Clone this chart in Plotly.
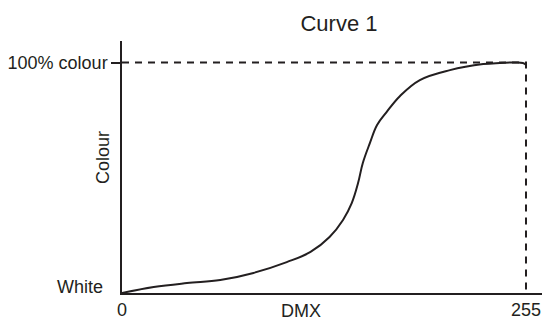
import plotly.graph_objects as go

# valores DMX (0-255) y porcentaje de color
dmx = [0, 20, 41, 62, 83, 104, 119, 131, 139.5, 145, 149, 152, 156.5, 161, 167, 175.5, 188, 207, 228, 238.5, 248, 253, 255]
colour = [0, 2.6, 4.3, 5.6, 8.7, 13.4, 17.8, 24.3, 31.7, 39, 47.7, 56.4, 65.1, 72.9, 78.5, 85.5, 92.4, 96.7, 99.3, 99.8, 100, 99.8, 99.0]

x_ticks = [0, 255]
x_labels = ["0", "255"]
y_max = 100
y_labels = ["White", "100% colour"]

color_linea = "#231f20"
fuente = "Arial, Liberation Sans, sans-serif"

fig = go.Figure()

# guías discontinuas al 100% y en 255
fig.add_trace(go.Scatter(
    x=[x_ticks[0], x_ticks[1], x_ticks[1]],
    y=[y_max, y_max, -4],
    mode="lines",
    line=dict(color=color_linea, width=2, dash="7px,6px"),
    cliponaxis=False,
    hoverinfo="skip",
))

fig.add_trace(go.Scatter(
    x=dmx, y=colour,
    mode="lines",
    line=dict(color=color_linea, width=2, shape="spline", smoothing=1.1),
    cliponaxis=False,
))

fig.update_layout(
    width=544, height=320,
    margin=dict(l=122, r=2, t=41, b=27, autoexpand=False),
    paper_bgcolor="white", plot_bgcolor="white",
    showlegend=False,
    font=dict(family=fuente, size=18, color=color_linea),
    title=dict(text="Curve 1", x=339 / 544, xanchor="center", y=1 - 23 / 320, yanchor="middle",
               font=dict(size=22)),
    xaxis=dict(range=[0, 255 * 420 / 404], tickvals=x_ticks, ticktext=x_labels, automargin=False,
               showgrid=False, zeroline=False, showline=True, linecolor=color_linea, linewidth=1.5,
               ticks="", ticklabelstandoff=0),
    yaxis=dict(range=[0, 252 / 2.305], tickvals=[y_max], ticktext=[y_labels[1]], automargin=False,
               showgrid=False, zeroline=False, showline=True, linecolor=color_linea, linewidth=1.5,
               ticks="outside", ticklen=9, tickwidth=1.5, tickcolor=color_linea),
    yaxis2=dict(range=[0, 252 / 2.305], overlaying="y", side="left", tickvals=[0], ticktext=[y_labels[0]],
                automargin=False, showgrid=False, zeroline=False, showline=False, ticks="",
                ticklabelshift=-6, ticklabelstandoff=18),
)

fig.add_trace(go.Scatter(x=[None], y=[None], yaxis="y2", showlegend=False))

fig.add_annotation(text="DMX", x=113, xref="x", y=0, yref="paper", yanchor="top", yshift=-6,
                   showarrow=False)
fig.add_annotation(text="Colour", textangle=-90, x=0, xref="paper", xanchor="right", xshift=-7,
                   y=58.6, yref="y", showarrow=False)

# quitar el margen del body para que la figura empiece en la esquina
fig.write_html("out.html", config={"displayModeBar": False},
               post_script="document.body.style.margin='0';")
